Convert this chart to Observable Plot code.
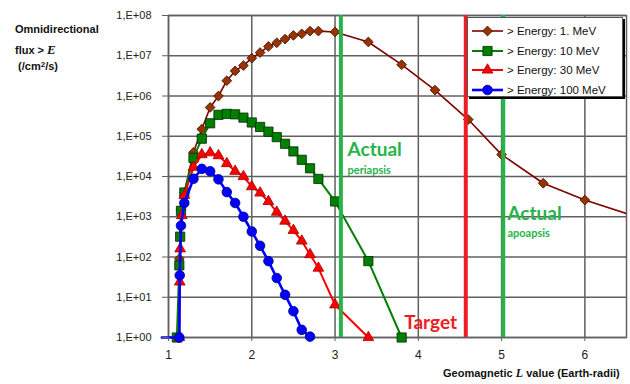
<!DOCTYPE html>
<html><head><meta charset="utf-8">
<script src="https://cdn.jsdelivr.net/npm/d3@7"></script>
<script src="https://cdn.jsdelivr.net/npm/@observablehq/plot@0.6"></script>
<style>
body{margin:0;background:#fff;}
#wrap{position:relative;width:630px;height:384px;font-family:"Liberation Sans",Arial,sans-serif;color:#111;}
.yl{position:absolute;left:15px;font-size:11px;font-weight:bold;white-space:nowrap;line-height:12px;}
#xlab{position:absolute;left:443px;top:366px;font-size:11px;font-weight:bold;white-space:nowrap;}
#legend{position:absolute;left:467px;top:17px;width:154px;height:78px;background:#fff;border:1px solid #555;box-shadow:2px 2px 0 #000;}
.lrow{position:absolute;left:3px;height:16px;display:flex;align-items:center;font-size:11.5px;white-space:nowrap;}
.lrow svg{margin-right:3px;}
</style></head><body>
<div id="wrap">
<div id="chart"></div>
<div class="yl" style="top:23px">Omnidirectional</div>
<div class="yl" style="top:44px">flux &gt; <i style="font-family:'Liberation Serif',serif;font-size:13px;">E</i></div>
<div class="yl" style="top:59px">&nbsp;(/cm<span style="font-size:8px;vertical-align:3px">2</span>/s)</div>
<div id="xlab">Geomagnetic <i style="font-family:'Liberation Serif',serif;font-size:12px;">L</i> value (Earth-radii)</div>
<div id="legend"></div>
</div>
<script>
// ---- data ----
const seriesNames = ["> Energy: 1. MeV", "> Energy: 10 MeV", "> Energy: 30 MeV", "> Energy: 100 MeV"];

const L_1MeV = [1.12, 1.13, 1.15, 1.19, 1.3, 1.4, 1.5, 1.6, 1.7, 1.8, 1.9, 2.0, 2.1, 2.2, 2.3, 2.4, 2.5, 2.6, 2.7, 2.8, 3.0, 3.4, 3.8, 4.2, 4.6, 5.0, 5.5, 6.0, 7.0];
const F_1MeV = [1, 90, 1.5e3, 4.0e3, 4.0e4, 1.5e5, 5.2e5, 1.0e6, 2.4e6, 4.2e6, 5.7e6, 8.7e6, 1.2e7, 1.7e7, 2.1e7, 2.6e7, 3.2e7, 3.5e7, 4.1e7, 4.1e7, 3.9e7, 2.2e7, 6.0e6, 1.4e6, 2.6e5, 3.5e4, 6.8e3, 2.6e3, 5.5e2];

const L_10MeV = [1.10, 1.13, 1.14, 1.15, 1.19, 1.3, 1.4, 1.5, 1.6, 1.7, 1.8, 1.9, 2.0, 2.1, 2.2, 2.3, 2.4, 2.5, 2.6, 2.7, 2.8, 3.0, 3.4, 3.8];
const F_10MeV = [1, 62, 320, 1.4e3, 4.0e3, 2.9e4, 8.7e4, 2.1e5, 3.4e5, 3.6e5, 3.5e5, 2.9e5, 2.2e5, 1.7e5, 1.3e5, 9.5e4, 6.5e4, 4.2e4, 2.6e4, 1.6e4, 8.7e3, 2.4e3, 79, 1];

const L_30MeV = [1.13, 1.135, 1.14, 1.16, 1.19, 1.3, 1.4, 1.5, 1.6, 1.7, 1.8, 1.9, 2.0, 2.1, 2.2, 2.3, 2.4, 2.5, 2.6, 2.7, 2.8, 3.0, 3.4];
const F_30MeV = [1, 24, 160, 1.07e3, 3.4e3, 1.7e4, 3.5e4, 3.9e4, 3.3e4, 2.1e4, 1.35e4, 1.0e4, 5.6e3, 3.9e3, 2.4e3, 1.3e3, 7.8e2, 4.6e2, 2.5e2, 1.15e2, 53, 6.5, 1];

const L_100MeV = [0.92, 1.13, 1.135, 1.15, 1.19, 1.3, 1.4, 1.5, 1.6, 1.7, 1.8, 1.9, 2.0, 2.1, 2.2, 2.3, 2.4, 2.5, 2.6, 2.7];
const F_100MeV = [1, 1, 35, 600, 2.2e3, 8.8e3, 1.55e4, 1.35e4, 8.5e3, 4.1e3, 2.2e3, 1.0e3, 4.3e2, 1.9e2, 79, 30, 11.5, 4.5, 1.55, 1.05];

const xTicks = [1, 2, 3, 4, 5, 6];
const yTicks = [1, 10, 100, 1e3, 1e4, 1e5, 1e6, 1e7, 1e8];

const orbitLines = [{L: 3.07, kind: "actual"}, {L: 4.57, kind: "target"}, {L: 5.02, kind: "actual"}];
const notes = [
  {L: 3.15, flux: 4.5e4, text: "Actual", kind: "actual", big: true},
  {L: 3.15, flux: 1.4e4, text: "periapsis", kind: "actual", big: false},
  {L: 3.83, flux: 2.3, text: "Target", kind: "target", big: true},
  {L: 5.07, flux: 1.2e3, text: "Actual", kind: "actual", big: true},
  {L: 5.07, flux: 3.9e2, text: "apoapsis", kind: "actual", big: false}
];

// ---- styles ----
const styles = [
  {line: "#800000", fill: "#993300", stroke: "#3a0e00", symbol: "diamond2", r: 4.4, sw: 1.6},
  {line: "#008000", fill: "#008000", stroke: "#002a00", symbol: "square", r: 5.2, sw: 2},
  {line: "#ff0000", fill: "#ff0000", stroke: "#a00000", symbol: "triangle", r: 4.0, sw: 2},
  {line: "#0000ff", fill: "#0000ff", stroke: "#000080", symbol: "circle", r: 4.8, sw: 2.6}
];
const GREEN = "#27b34b", RED = "#ee1c25", GRID = "#606060";

const Ls = [L_1MeV, L_10MeV, L_30MeV, L_100MeV];
const Fs = [F_1MeV, F_10MeV, F_30MeV, F_100MeV];
const data = Ls.map((Larr, i) => Larr.map((L, j) => ({L, flux: Fs[i][j]})));

const marks = [
  Plot.gridY(yTicks, {stroke: GRID, strokeOpacity: 1, strokeWidth: 1.5}),
  Plot.gridX(xTicks, {stroke: GRID, strokeOpacity: 1, strokeWidth: 1.5}),
  Plot.frame({stroke: GRID, strokeWidth: 1.5})
];
data.forEach((d, i) => {
  const s = styles[i];
  marks.push(Plot.line(d, {x: "L", y: "flux", stroke: s.line, strokeWidth: s.sw, clip: i === 0}));
  marks.push(Plot.dot(d.filter(p => p.L >= 1 && p.L <= 6.5), {x: "L", y: "flux", symbol: () => s.symbol, r: s.r, fill: s.fill, stroke: s.stroke, strokeWidth: 0.8}));
});
marks.push(Plot.ruleX(orbitLines, {x: "L", stroke: d => d.kind === "target" ? RED : GREEN, strokeWidth: 4}));
marks.push(Plot.text(notes, {x: "L", y: "flux", text: "text", textAnchor: "start", lineAnchor: "middle",
  fill: d => d.kind === "target" ? RED : GREEN, fontSize: d => d.big ? 19 : 11, fontWeight: "bold",
  fontFamily: "Lato, 'Open Sans', sans-serif"}));
marks.push(Plot.axisY({ticks: yTicks, tickSize: 6, tickPadding: 11, stroke: GRID, fill: "#222", fontSize: 11,
  tickFormat: d => "1,E+" + String(Math.round(Math.log10(d))).padStart(2, "0"), label: null}));
marks.push(Plot.axisX({ticks: xTicks, tickSize: 4, tickPadding: 9, stroke: GRID, fill: "#222", fontSize: 12,
  tickFormat: d => String(d), label: null}));

const chart = Plot.plot({
  width: 630, height: 384,
  marginLeft: 168, marginRight: 4, marginTop: 15, marginBottom: 47,
  style: {fontFamily: "'Liberation Sans', Arial, sans-serif", background: "#fff", overflow: "visible"},
  x: {domain: [1, 6.5]},
  y: {type: "log", domain: [1, 1e8]},
  color: {type: "identity"},
  symbol: {type: "identity"},
  marks
});
document.getElementById("chart").appendChild(chart);

// ---- legend ----
const legend = document.getElementById("legend");
const rowTops = [5, 24.5, 44, 63.5];
seriesNames.forEach((name, i) => {
  const s = styles[i];
  const row = document.createElement("div");
  row.className = "lrow";
  row.style.top = rowTops[i] + "px";
  const svg = d3.create("svg").attr("width", 33).attr("height", 14);
  svg.append("line").attr("x1", 1).attr("x2", 32).attr("y1", 7).attr("y2", 7).attr("stroke", s.line).attr("stroke-width", s.sw);
  const symMap = {diamond2: d3.symbolDiamond2, square: d3.symbolSquare, triangle: d3.symbolTriangle, circle: d3.symbolCircle};
  svg.append("path").attr("transform", "translate(16.5,7)")
    .attr("d", d3.symbol(symMap[s.symbol], Math.PI * s.r * s.r)())
    .attr("fill", s.fill).attr("stroke", s.stroke).attr("stroke-width", 0.8);
  row.appendChild(svg.node());
  const span = document.createElement("span");
  span.textContent = name;
  row.appendChild(span);
  legend.appendChild(row);
});
</script>
</body></html>
